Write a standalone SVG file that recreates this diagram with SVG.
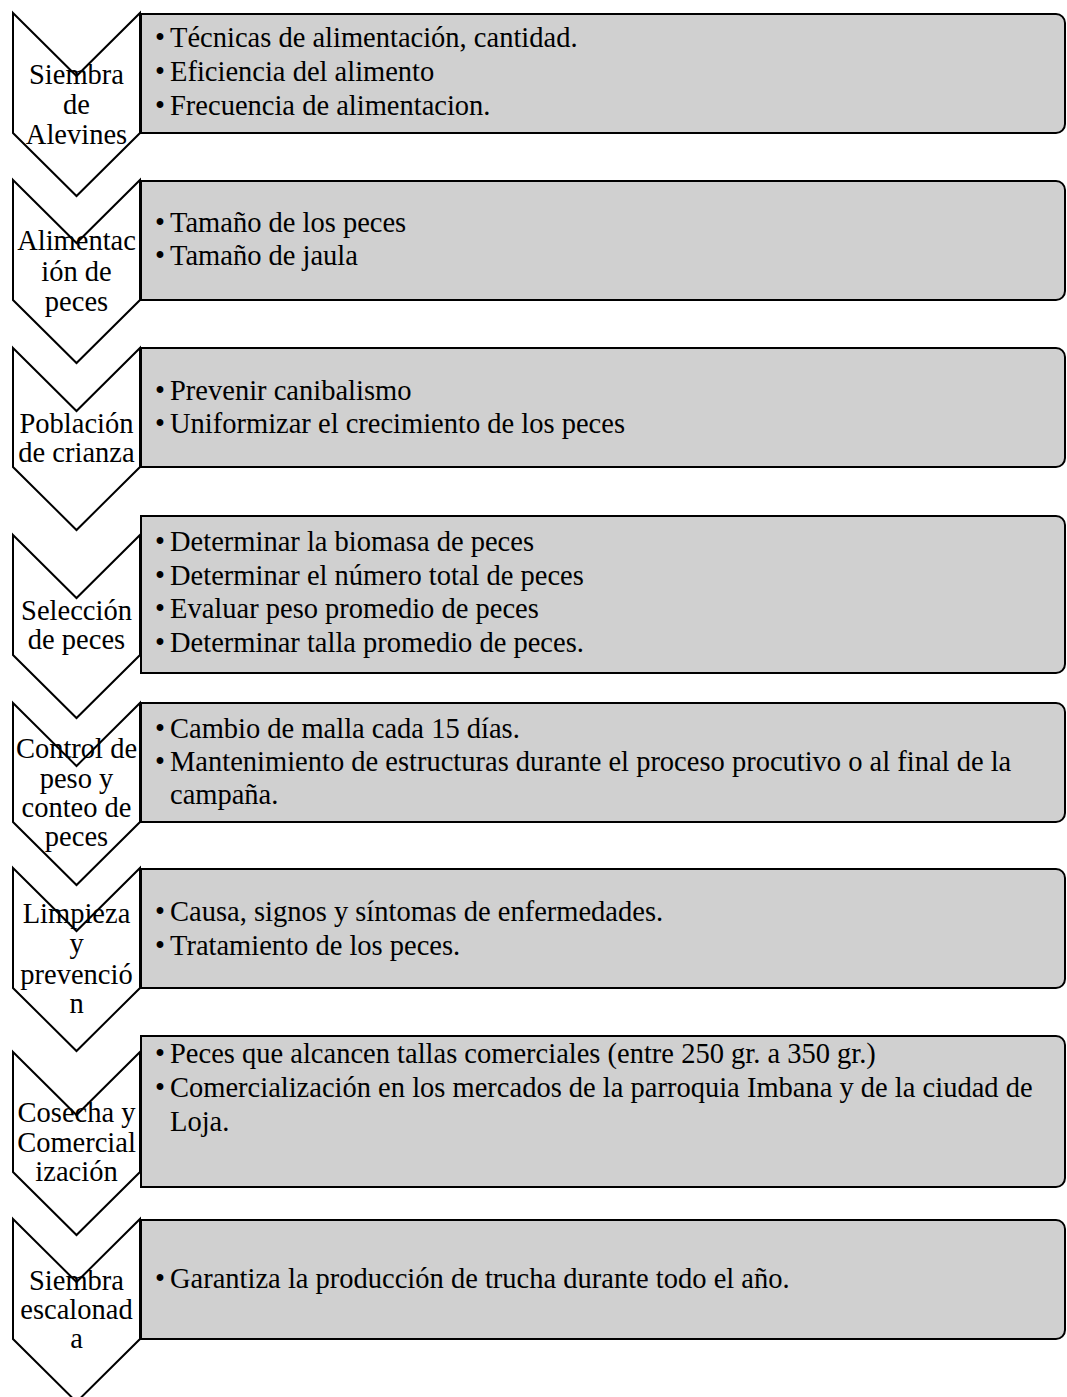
<svg xmlns="http://www.w3.org/2000/svg" width="1067" height="1397" viewBox="0 0 1067 1397">
<style>
.chev{fill:#ffffff;stroke:#000000;stroke-width:2;stroke-linejoin:miter}
.box{fill:#d0d0d0;stroke:#000000;stroke-width:2}
.lbl{font-family:"Liberation Serif","Times New Roman",serif;font-size:28.5px;fill:#000000;text-anchor:middle}
.txt{font-family:"Liberation Serif","Times New Roman",serif;font-size:28.5px;fill:#000000}
</style>
<rect x="0" y="0" width="1067" height="1397" fill="#ffffff"/>
<g id="step1">
<path class="box" d="M141,14 H1056 A9,9 0 0 1 1065,23 V124 A9,9 0 0 1 1056,133 H141 Z"/>
<polygon class="chev" points="13,13 76.5,76 140,13 140,133 76.5,196 13,133"/>
<text class="lbl" x="76.5" y="84">Siembra</text>
<text class="lbl" x="76.5" y="114">de</text>
<text class="lbl" x="76.5" y="144">Alevines</text>
<text class="txt" x="155" y="47">•</text><text class="txt" x="170" y="47">Técnicas de alimentación, cantidad.</text>
<text class="txt" x="155" y="81">•</text><text class="txt" x="170" y="81">Eficiencia del alimento</text>
<text class="txt" x="155" y="115">•</text><text class="txt" x="170" y="115">Frecuencia de alimentacion.</text>
</g>
<g id="step2">
<path class="box" d="M141,181 H1056 A9,9 0 0 1 1065,190 V291 A9,9 0 0 1 1056,300 H141 Z"/>
<polygon class="chev" points="13,180 76.5,243 140,180 140,300 76.5,363 13,300"/>
<text class="lbl" x="76.5" y="250">Alimentac</text>
<text class="lbl" x="76.5" y="281">ión de</text>
<text class="lbl" x="76.5" y="311">peces</text>
<text class="txt" x="155" y="232">•</text><text class="txt" x="170" y="232">Tamaño de los peces</text>
<text class="txt" x="155" y="265">•</text><text class="txt" x="170" y="265">Tamaño de jaula</text>
</g>
<g id="step3">
<path class="box" d="M141,348 H1056 A9,9 0 0 1 1065,357 V458 A9,9 0 0 1 1056,467 H141 Z"/>
<polygon class="chev" points="13,348 76.5,411 140,348 140,467 76.5,530 13,467"/>
<text class="lbl" x="76.5" y="433">Población</text>
<text class="lbl" x="76.5" y="462">de crianza</text>
<text class="txt" x="155" y="400">•</text><text class="txt" x="170" y="400">Prevenir canibalismo</text>
<text class="txt" x="155" y="433">•</text><text class="txt" x="170" y="433">Uniformizar el crecimiento de los peces</text>
</g>
<g id="step4">
<path class="box" d="M141,516 H1056 A9,9 0 0 1 1065,525 V664 A9,9 0 0 1 1056,673 H141 Z"/>
<polygon class="chev" points="13,535 76.5,598 140,535 140,655 76.5,718 13,655"/>
<text class="lbl" x="76.5" y="620">Selección</text>
<text class="lbl" x="76.5" y="649">de peces</text>
<text class="txt" x="155" y="551">•</text><text class="txt" x="170" y="551">Determinar la biomasa de peces</text>
<text class="txt" x="155" y="585">•</text><text class="txt" x="170" y="585">Determinar el número total de peces</text>
<text class="txt" x="155" y="618">•</text><text class="txt" x="170" y="618">Evaluar peso promedio de peces</text>
<text class="txt" x="155" y="652">•</text><text class="txt" x="170" y="652">Determinar talla promedio de peces.</text>
</g>
<g id="step5">
<path class="box" d="M141,703 H1056 A9,9 0 0 1 1065,712 V813 A9,9 0 0 1 1056,822 H141 Z"/>
<polygon class="chev" points="13,703 76.5,766 140,703 140,822 76.5,885 13,822"/>
<text class="lbl" x="76.5" y="758">Control de</text>
<text class="lbl" x="76.5" y="788">peso y</text>
<text class="lbl" x="76.5" y="817">conteo de</text>
<text class="lbl" x="76.5" y="846">peces</text>
<text class="txt" x="155" y="738">•</text><text class="txt" x="170" y="738">Cambio de malla cada 15 días.</text>
<text class="txt" x="155" y="771">•</text><text class="txt" x="170" y="771">Mantenimiento de estructuras durante el proceso procutivo o al final de la</text>
<text class="txt" x="170" y="804">campaña.</text>
</g>
<g id="step6">
<path class="box" d="M141,869 H1056 A9,9 0 0 1 1065,878 V979 A9,9 0 0 1 1056,988 H141 Z"/>
<polygon class="chev" points="13,868 76.5,931 140,868 140,988 76.5,1051 13,988"/>
<text class="lbl" x="76.5" y="923">Limpieza</text>
<text class="lbl" x="76.5" y="953">y</text>
<text class="lbl" x="76.5" y="984">prevenció</text>
<text class="lbl" x="76.5" y="1013">n</text>
<text class="txt" x="155" y="921">•</text><text class="txt" x="170" y="921">Causa, signos y síntomas de enfermedades.</text>
<text class="txt" x="155" y="955">•</text><text class="txt" x="170" y="955">Tratamiento de los peces.</text>
</g>
<g id="step7">
<path class="box" d="M141,1036 H1056 A9,9 0 0 1 1065,1045 V1178 A9,9 0 0 1 1056,1187 H141 Z"/>
<polygon class="chev" points="13,1052 76.5,1115 140,1052 140,1172 76.5,1235 13,1172"/>
<text class="lbl" x="76.5" y="1122">Cosecha y</text>
<text class="lbl" x="76.5" y="1152">Comercial</text>
<text class="lbl" x="76.5" y="1181">ización</text>
<text class="txt" x="155" y="1063">•</text><text class="txt" x="170" y="1063">Peces que alcancen tallas comerciales (entre 250 gr. a 350 gr.)</text>
<text class="txt" x="155" y="1097">•</text><text class="txt" x="170" y="1097">Comercialización en los mercados de la parroquia Imbana y de la ciudad de</text>
<text class="txt" x="170" y="1131">Loja.</text>
</g>
<g id="step8">
<path class="box" d="M141,1220 H1056 A9,9 0 0 1 1065,1229 V1330 A9,9 0 0 1 1056,1339 H141 Z"/>
<polygon class="chev" points="13,1219 76.5,1282 140,1219 140,1339 76.5,1402 13,1339"/>
<text class="lbl" x="76.5" y="1290">Siembra</text>
<text class="lbl" x="76.5" y="1319">escalonad</text>
<text class="lbl" x="76.5" y="1348">a</text>
<text class="txt" x="155" y="1288">•</text><text class="txt" x="170" y="1288">Garantiza la producción de trucha durante todo el año.</text>
</g>
</svg>
